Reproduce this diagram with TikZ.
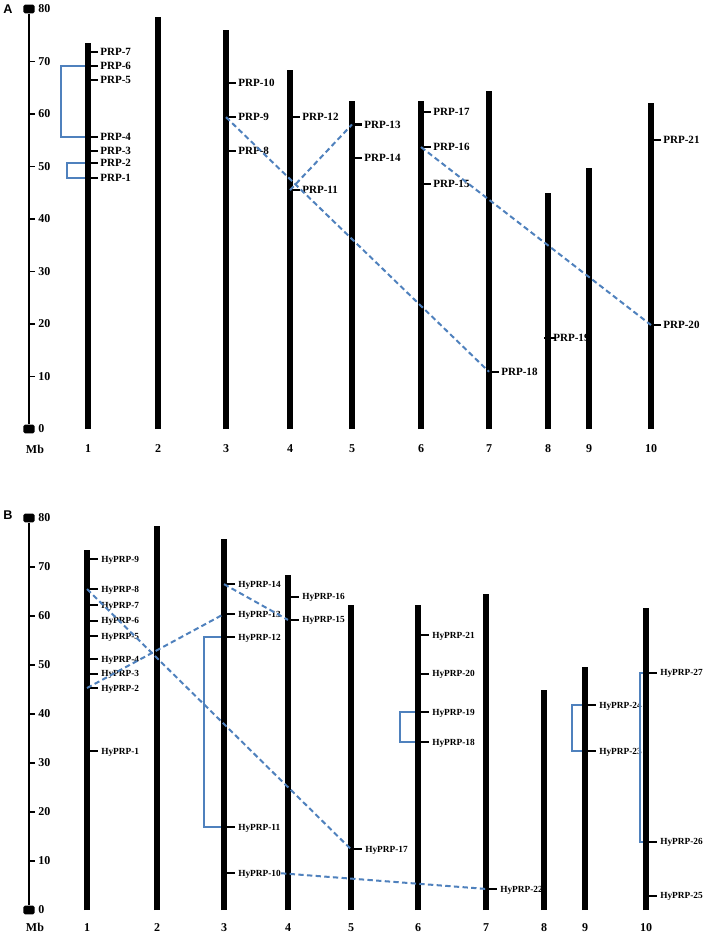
\documentclass[tikz,border=0pt]{standalone}
\usepackage{fontspec}
\setmainfont{Liberation Serif}
\setsansfont{Liberation Sans}
\usetikzlibrary{positioning}
\definecolor{dupblue}{HTML}{4F81BD}

\begin{document}
\begin{tikzpicture}[
  x=0.75pt, y=-0.75pt,
  chrom/.style={line width=4.5pt},
  genetick/.style={line width=1.6pt},
  scaleend/.style={fill=black,rounded corners=1.2pt,minimum width=8.5pt,minimum height=6.5pt,inner sep=0pt},
  scalelab/.style={font=\bfseries\fontsize{9}{10}\selectfont,inner sep=0pt},
  genelabA/.style={font=\bfseries\fontsize{8.3}{9}\selectfont,inner sep=0pt,text height=5.5pt,text depth=0pt},
  genelabB/.style={font=\bfseries\fontsize{7}{8}\selectfont,inner sep=0pt,text height=4.6pt,text depth=0pt},
  panel/.style={font=\sffamily\bfseries\fontsize{9.5}{11}\selectfont,inner sep=0pt},
  tandem/.style={dupblue,line width=1.5pt},
  segdup/.style={dupblue,line width=1.5pt,dash pattern=on 4pt off 2.5pt}
]
\useasboundingbox (0,0) rectangle (702,937);
\fill[white] (0,0) rectangle (702,937);

\node[panel] (pA) at (8,9) {A};
\node[panel] (pB) at (8,515) {B};

\begin{scope}[yshift=-321.75pt, y=3.9375pt]
  \node[scaleend] (topA) at (29,80) {};
  \node[scaleend] (botA) at (29,0) {};
  \draw[line width=1.5pt] (topA) -- (botA);
  \foreach \v in {10,20,...,70} \draw[line width=1.2pt] (29,\v) -- ++(6,0);
  \foreach \v in {0,10,...,80} \node[scalelab,anchor=west] (sA\v) at (38,\v) {\v};
  \node[scalelab] (mbA) at (35,-3.8) {Mb};

  \foreach \g/\cx/\mb in {7/88/71.8,6/88/69.1,5/88/66.5,4/88/55.6,3/88/53,2/88/50.7,1/88/47.8,
      10/226/65.9,9/226/59.4,8/226/53,12/290/59.4,11/290/45.5,13/352/58,14/352/51.6,
      17/421/60.4,16/421/53.7,15/421/46.7,18/489/10.9,20/651/19.8,21/651/55}{
    \coordinate (a\g) at (\cx,\mb);
    \draw[genetick] (a\g) -- ++(10,0);
    \node[genelabA,right=9pt of a\g] (la\g) {PRP-\g};
  }
  \coordinate (a19) at (548,17.3);
  \draw[genetick] ([xshift=-3pt]a19) -- ++(11,0);
  \node[genelabA,right=3.75pt of a19] (la19) {PRP-19};

  \draw[tandem] (a6) -- ++(-27,0) |- (a4);
  \draw[tandem] (a2) -- ++(-21,0) |- (a1);

  \foreach \n/\cx/\len in {1/88/73.5,2/158/78.5,3/226/76,4/290/68.4,5/352/62.5,
      6/421/62.5,7/489/64.4,8/548/45,9/589/49.7,10/651/62}{
    \draw[chrom] (\cx,0) -- (\cx,\len);
    \node[scalelab] (cA\n) at (\cx,-3.8) {\n};
  }

  \draw[segdup] (a9) -- (a18);
  \draw[segdup] (a11) -- (a13);
  \draw[segdup] (a16) -- (a20);
\end{scope}

\begin{scope}[yshift=-682.5pt, y=3.675pt]
  \node[scaleend] (topB) at (29,80) {};
  \node[scaleend] (botB) at (29,0) {};
  \draw[line width=1.5pt] (topB) -- (botB);
  \foreach \v in {10,20,...,70} \draw[line width=1.2pt] (29,\v) -- ++(6,0);
  \foreach \v in {0,10,...,80} \node[scalelab,anchor=west] (sB\v) at (38,\v) {\v};
  \node[scalelab] (mbB) at (35,-3.5) {Mb};

  \foreach \g/\cx/\mb in {9/87/71.6,8/87/65.5,7/87/62.2,6/87/59,5/87/55.9,4/87/51.2,3/87/48.2,
      2/87/45.3,1/87/32.4,14/224/66.5,13/224/60.4,12/224/55.7,11/224/16.9,10/224/7.5,
      16/288/63.9,15/288/59.2,17/351/12.4,21/418/56.1,20/418/48.2,19/418/40.4,18/418/34.3,
      22/486/4.3,24/585/41.8,23/585/32.4,27/646/48.4,26/646/13.9,25/646/2.9}{
    \coordinate (b\g) at (\cx,\mb);
    \draw[genetick] (b\g) -- ++(11,0);
    \node[genelabB,right=10.5pt of b\g] (lb\g) {HyPRP-\g};
  }

  \draw[tandem] (b12) -- ++(-20,0) |- (b11);
  \draw[tandem] (b19) -- ++(-18,0) |- (b18);
  \draw[tandem] (b24) -- ++(-13,0) |- (b23);
  \draw[tandem] (b27) -- ++(-6,0) |- (b26);

  \foreach \n/\cx/\len in {1/87/73.5,2/157/78.4,3/224/75.7,4/288/68.4,5/351/62.2,
      6/418/62.2,7/486/64.4,8/544/45,9/585/49.6,10/646/61.6}{
    \draw[chrom] (\cx,0) -- (\cx,\len);
    \node[scalelab] (cB\n) at (\cx,-3.5) {\n};
  }

  \draw[segdup] (b8) -- (b17);
  \draw[segdup] (b2) -- (b13);
  \draw[segdup] (b14) -- (b15);
  \draw[segdup] (lb10.east) -- (b22);
\end{scope}
\end{tikzpicture}
\end{document}
